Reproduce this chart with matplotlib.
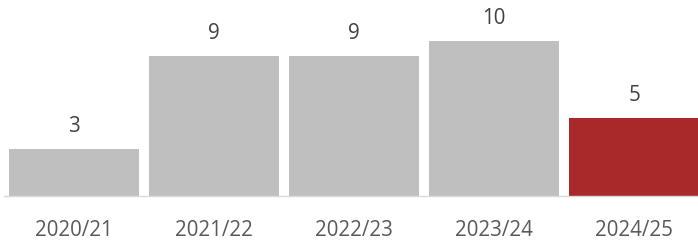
import matplotlib
matplotlib.use('Agg')
import matplotlib.pyplot as plt

seasons = ['2020/21', '2021/22', '2022/23', '2023/24', '2024/25']
counts = [3, 9, 9, 10, 5]
colors = ['#BFBFBF', '#BFBFBF', '#BFBFBF', '#BFBFBF', '#A9292B']

plt.rcParams['font.family'] = ['Open Sans', 'DejaVu Sans']

fig = plt.figure(figsize=(6.98, 2.41), dpi=100)
# axis spans a bit past the right edge, as in the reference
ax = fig.add_axes([4 / 698, 45.5 / 241, 700 / 698, 186 / 241])

x = range(len(seasons))
bars = ax.bar(x, counts, width=0.93, color=colors, zorder=2)

for xi, v in zip(x, counts):
    ax.annotate(str(v), (xi, v), xytext=(0, 12), textcoords='offset points',
                ha='center', va='baseline', fontsize=14.8, color='#404040')

ax.set_xlim(-0.5, 4.5)
ax.set_ylim(0, 12)
ax.set_yticks([])
ax.set_xticks(list(x))
ax.set_xticklabels(seasons, fontsize=14.8, color='#595959')
ax.tick_params(axis='x', length=0, pad=18)
for s in ['top', 'right', 'left']:
    ax.spines[s].set_visible(False)
ax.spines['bottom'].set_color('#D9D9D9')
ax.spines['bottom'].set_linewidth(1)

fig.savefig('out.png', dpi=100)
